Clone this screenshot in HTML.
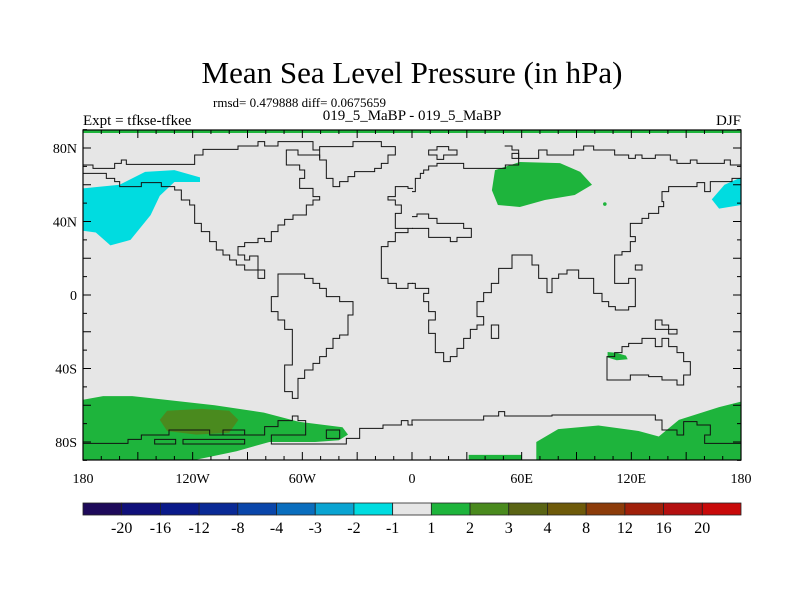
<!DOCTYPE html>
<html><head><meta charset="utf-8"><style>
html,body{margin:0;padding:0;background:#fff;}
svg{display:block;font-family:"Liberation Serif",serif;}
</style></head><body>
<svg id="chart" width="800" height="600" viewBox="0 0 800 600">
<text x="412" y="83" text-anchor="middle" font-size="31">Mean Sea Level Pressure (in hPa)</text>
<text x="213" y="107" font-size="13">rmsd= 0.479888 diff= 0.0675659</text>
<text x="83" y="125" font-size="15">Expt = tfkse-tfkee</text>
<text x="412" y="120" text-anchor="middle" font-size="15">019_5_MaBP - 019_5_MaBP</text>
<text x="741" y="125" text-anchor="end" font-size="15">DJF</text>
<defs><clipPath id="mapclip"><rect x="83" y="130" width="658" height="330"/></clipPath></defs>
<rect x="83" y="130" width="658" height="330" fill="#e6e6e6"/>
<g id="fills" clip-path="url(#mapclip)"></g>
<g clip-path="url(#mapclip)" fill="none" stroke="#111" stroke-width="1">
<g transform="translate(83,130) scale(0.33333)">
<path vector-effect="non-scaling-stroke" d="M0,105H30V115H95V100H115V90H130V103H335V75H360V58H465V48H525V35H545V48H585V35H690V60H710"/>
<path vector-effect="non-scaling-stroke" d="M0,130H70V145H95V155H110V170H175V158H235V170H275V180H295V210H320V225H335V280H355V305H380V335H400V360H420V375H440V390H460V405H485V420H525V445H545V420H525V378H500V390H485V375H465V350H485V338H525V325H545V335H565V305H585V285H605V268H630V255H670V225H690V210H710V200H690V175H650V145H665V120H650V105H610V60H645V75H710V85"/>
<path vector-effect="non-scaling-stroke" d="M710,50H810V35H895V50H937V75H915V100H895V115H875V125H815V140H795V155H770V170H750V145H730V90H710Z"/>
<path vector-effect="non-scaling-stroke" d="M585,445V432H665V445H690V460H710V475H730V500H770V515H810V555H795V615H770V625H750V655H730V680H710V700H690V720H665V745H645V805H628V785H605V705H628V598H605V570H585V545H565V500H585Z"/>
<path vector-effect="non-scaling-stroke" d="M990,460H975V475H940V460H915V445H895V350H915V335H937V308H975V295H990"/>
<path vector-effect="non-scaling-stroke" d="M990,175H975V170H937V200H915V210H937V225H955V250H937V295H975"/>
<path vector-effect="non-scaling-stroke" d="M0,940H135V928H175V915H258V900H380V915H545V890H585V872H628V858H645V872H668V915H565V942H790V925H830V895H900V885H955V872H975V885H990"/>
<path vector-effect="non-scaling-stroke" d="M215,928H278V942H215Z M300,928H485V942H300Z M420,900H485V915H420Z M730,900H770V925H730Z"/>
</g>
<g transform="translate(412,130) scale(0.33333)">
<path vector-effect="non-scaling-stroke" d="M0,185H10V145H25V130H35V120H50V108H75V100H155V115H280V105H320V85H300V70H320V85H380V60H405V75H485V60H515V48H545V60H608V75H650V85H670V75H690V85H730V75H775V90H795V100H835V90H855V100H937V90H955V105H990"/>
<path vector-effect="non-scaling-stroke" d="M990,145H960V155H895V185H878V158H855V170H770V185H750V215H755V230H740V250H710V265H690V280H655V320H670V335H655V365H630V375H608V460H650V445H670V530H650V540H610V530H590V515H570V490H545V445H500V420H465V432H440V445H420V488H405V445H380V405H360V375H300V415H260V460H238V488H215V515H195V560H215V585H195V598H175V625H155V655H135V680H115V695H95V668H70V610H50V570H70V545H50V515H35V490H50V475H10V460H0"/>
<path vector-effect="non-scaling-stroke" d="M585,680H608V668H630V650H650V640H690V625H730V650H750V625H770V650H795V668H815V695H835V735H815V765H795V750H750V740H710V735H655V750H585Z"/>
<path vector-effect="non-scaling-stroke" d="M0,260H15V252H50V265H75V280H155V295H178V322H135V335H115V322H50V295H0"/>
<path vector-effect="non-scaling-stroke" d="M238,585H260V625H238Z M670,405H690V420H670Z M730,570H750V585H770V598H795V612H770V598H730Z M50,60H75V50H110V60H135V75H95V88H75V75H50Z M278,48H300V60H320V85"/>
<path vector-effect="non-scaling-stroke" d="M0,885V870H215V858H260V845H278V858H420V855H730V870H750V900H795V915H815V875H855V885H895V915H878V940H990"/>
</g>
</g>
<rect x="83" y="130" width="658" height="3" fill="#1eb43c"/>
<g id="ticks" stroke="#000" stroke-width="1"></g>
<rect x="83" y="130" width="658" height="330" fill="none" stroke="#000" stroke-width="1.2"/>
<g id="labels" font-size="14"></g>
<g id="colorbar"></g>
</svg>
<script>
const NS='http://www.w3.org/2000/svg';
const lonTickValues=[-180,-120,-60,0,60,120,180];
const lonTickLabels=['180','120W','60W','0','60E','120E','180'];
const latTickValues=[80,40,0,-40,-80];
const latTickLabels=['80N','40N','0','40S','80S'];
const cbLabels=['-20','-16','-12','-8','-4','-3','-2','-1','1','2','3','4','8','12','16','20'];
const cbColors=['#1e0a5a','#10107a','#0a1a8a','#0a2a96','#0a46aa','#0a6ebe','#0aa4d2','#00dce0','#e6e6e6','#1eb43c','#4a8a1e','#5a6414','#6e5a0a','#8c3c0a','#a0200a','#b41010','#c80a0a'];
// anomaly regions [lon,lat] with contour class color
const cyanPacificLon=[-180,-160,-146,-130,-116,-116,-130,-138,-143,-154,-165,-173,-180];
const cyanPacificLat=[58,60,67,68,64,61.5,61.5,54,43.5,30,27,34,35];
const cyanEastLon=[180,171,164,168,180];
const cyanEastLat=[64,60,52,47,49];
const greenSiberiaLon=[45.4,59,81,92,98.5,89,72.7,59,47,43.7];
const greenSiberiaLat=[68,72.4,71.8,67,60,54.4,51.7,47.9,49,57];
const greenAusLon=[107,112,117,118,112,107];
const greenAusLat=[-31,-31.5,-33,-35,-35.5,-34];
const greenSouthWLon=[-180,-169,-153,-135,-108,-81,-62,-38,-35,-40,-53,-78,-96,-120,-180];
const greenSouthWLat=[-57,-55,-55,-57,-60,-64,-69,-72,-76,-79,-80,-80,-85,-90,-90];
const greenSouthELon=[68,80,102,124,135,146,168,180,180,68];
const greenSouthELat=[-80,-73,-71,-74,-77,-68,-61,-58,-90,-90];
const greenSouthBLon=[31,45,60,60,31];
const greenSouthBLat=[-87,-87,-87,-90,-90];
const oliveLon=[-134,-115,-100,-95,-100,-118,-134,-138];
const oliveLat=[-63,-62,-63,-68,-75,-76,-74,-68];
const X=lon=>83+(lon+180)*658/360;
const Y=lat=>295-lat*147/80;
function poly(lons,lats,color,name){
  const p=document.createElementNS(NS,'path');
  let d='';
  for(let i=0;i<lons.length;i++){d+=(i?'L':'M')+X(lons[i]).toFixed(1)+','+Y(lats[i]).toFixed(1);}
  p.setAttribute('d',d+'Z');p.setAttribute('fill',color);
  p.setAttribute('stroke-linejoin','round');
  
  
  document.getElementById('fills').appendChild(p);
}
poly(cyanPacificLon,cyanPacificLat,cbColors[7],'cyan-region-pacific');
poly(cyanEastLon,cyanEastLat,cbColors[7],'cyan-region-east');
poly(greenSiberiaLon,greenSiberiaLat,cbColors[9],'green-region-siberia');
poly(greenAusLon,greenAusLat,cbColors[9],'green-region-australia');
poly(greenSouthWLon,greenSouthWLat,cbColors[9],'green-region-south-west');
poly(greenSouthELon,greenSouthELat,cbColors[9],'green-region-south-east');
poly(greenSouthBLon,greenSouthBLat,cbColors[9],'green-region-south-bottom');
poly(oliveLon,oliveLat,cbColors[10],'olive-region-south');
// small dot
(function(){const c=document.createElementNS(NS,'circle');c.setAttribute('cx',X(105.5));c.setAttribute('cy',Y(49.5));c.setAttribute('r',1.8);c.setAttribute('fill',cbColors[9]);


document.getElementById('fills').appendChild(c);})();
// ticks
const tg=document.getElementById('ticks');
function line(x1,y1,x2,y2){const l=document.createElementNS(NS,'line');l.setAttribute('x1',x1);l.setAttribute('y1',y1);l.setAttribute('x2',x2);l.setAttribute('y2',y2);tg.appendChild(l);}
for(let lon=-180;lon<=180;lon+=10){const x=X(lon);const len=lon%30===0?8:4;line(x,130,x,130+len);line(x,460,x,460-len);}
for(let lat=-90;lat<=90;lat+=10){const y=Y(lat);const len=lat%20===0?8:4;line(83,y,83+len,y);line(741,y,741-len,y);}
const lg=document.getElementById('labels');
lonTickValues.forEach((v,i)=>{const t=document.createElementNS(NS,'text');t.setAttribute('x',X(v));t.setAttribute('y',483);t.setAttribute('text-anchor','middle');t.textContent=lonTickLabels[i];


lg.appendChild(t);});
latTickValues.forEach((v,i)=>{const t=document.createElementNS(NS,'text');t.setAttribute('x',77);t.setAttribute('y',Y(v)+5);t.setAttribute('text-anchor','end');t.textContent=latTickLabels[i];


lg.appendChild(t);});
// colorbar
const cg=document.getElementById('colorbar');
const bw=658/cbColors.length;
cbColors.forEach((c,i)=>{const r=document.createElementNS(NS,'rect');r.setAttribute('x',83+i*bw);r.setAttribute('y',503);r.setAttribute('width',bw);r.setAttribute('height',12);r.setAttribute('fill',c);r.setAttribute('stroke','#222');r.setAttribute('stroke-width','0.8');


cg.appendChild(r);});
cbLabels.forEach((s,i)=>{const t=document.createElementNS(NS,'text');t.setAttribute('x',83+(i+1)*bw);t.setAttribute('y',533);t.setAttribute('text-anchor','middle');t.setAttribute('font-size','16');t.textContent=s;


cg.appendChild(t);});
</script>
</body></html>
